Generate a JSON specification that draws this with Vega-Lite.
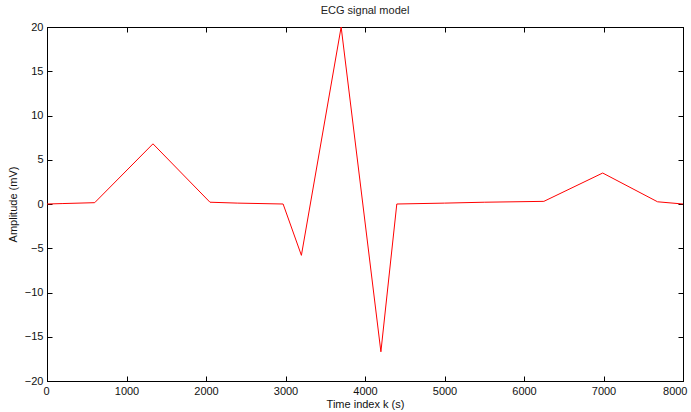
{
  "$schema": "https://vega.github.io/schema/vega-lite/v6.json",
  "width": 636,
  "height": 354,
  "autosize": "none",
  "padding": {"left": 47, "top": 27, "right": 8, "bottom": 31},
  "background": "white",
  "title": {"text": "ECG signal model", "font": "Liberation Sans", "fontSize": 11, "fontWeight": "normal", "color": "#222", "offset": 5},
  "config": {
    "view": {"stroke": "black", "strokeWidth": 1},
    "axis": {"labelFont": "Liberation Sans", "titleFont": "Liberation Sans", "labelFontSize": 11, "titleFontSize": 11, "titleFontWeight": "normal", "labelColor": "#111", "titleColor": "#111", "domainColor": "black", "tickColor": "black", "grid": false, "tickSize": -5, "format": "d", "labelOverlap": false}
  },
  "data": {"values": [
    {"k": 0, "v": 0},
    {"k": 200, "v": 0.05},
    {"k": 600, "v": 0.15},
    {"k": 1333, "v": 6.8},
    {"k": 2050, "v": 0.2},
    {"k": 2400, "v": 0.1},
    {"k": 2970, "v": 0.0},
    {"k": 3200, "v": -5.8},
    {"k": 3700, "v": 20},
    {"k": 4200, "v": -16.7},
    {"k": 4400, "v": 0},
    {"k": 5000, "v": 0.1},
    {"k": 5500, "v": 0.2},
    {"k": 6250, "v": 0.3},
    {"k": 6990, "v": 3.5},
    {"k": 7680, "v": 0.25},
    {"k": 8000, "v": 0}
  ]},
  "layer": [
    {
      "mark": {"type": "line", "color": "red", "strokeWidth": 1},
      "encoding": {
        "x": {"field": "k", "type": "quantitative", "scale": {"domain": [0, 8000], "nice": false, "zero": false}, "axis": {"title": "Time index k (s)", "values": [0,1000,2000,3000,4000,5000,6000,7000,8000], "labelPadding": 9, "titlePadding": 2, "labelFlush": true, "labelFlushOffset": 4}},
        "y": {"field": "v", "type": "quantitative", "scale": {"domain": [-20, 20], "nice": false, "zero": false}, "axis": {"title": "Amplitude (mV)", "values": [-20,-15,-10,-5,0,5,10,15,20], "labelPadding": 9, "titlePadding": 6}}
      }
    },
    {
      "mark": {"type": "line", "opacity": 0},
      "encoding": {
        "x": {"field": "k", "type": "quantitative", "scale": {"domain": [0, 8000], "nice": false, "zero": false}, "axis": {"orient": "top", "labels": false, "title": null, "values": [0,1000,2000,3000,4000,5000,6000,7000,8000]}},
        "y": {"field": "v", "type": "quantitative", "scale": {"domain": [-20, 20], "nice": false, "zero": false}, "axis": {"orient": "right", "labels": false, "title": null, "values": [-20,-15,-10,-5,0,5,10,15,20]}}
      }
    }
  ],
  "resolve": {"axis": {"x": "independent", "y": "independent"}}
}
